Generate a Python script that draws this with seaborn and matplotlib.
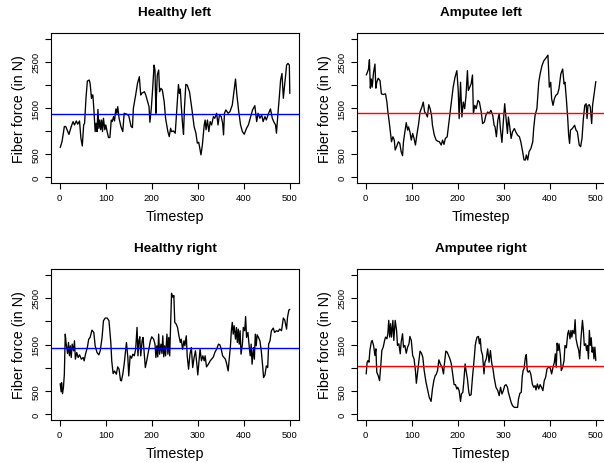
import matplotlib
matplotlib.use("Agg")
import matplotlib.pyplot as plt
import seaborn as sns
import pandas as pd

# ---------------- data ----------------
hl_t = [1,5,10,13,20,25,29,32,36,39,43,46,49,52,54,57,60,64,66,69,70,72,74,77,79,81,83,85,87,89,91,93,95,98,100,103,106,109,112,114,117,119,122,124,126,129,133,137,140,146,150,155,158,160,165,169,173,176,178,184,187,191,194,196,199,202,205,207,209,210,212,215,217,220,223,227,230,235,238,241,243,247,251,254,258,260,262,264,267,269,271,274,277,282,287,292,296,299,302,305,307,310,314,316,318,321,324,327,330,334,337,341,344,347,351,354,356,358,361,366,370,375,379,382,385,389,393,397,401,406,410,415,419,424,428,431,435,439,442,446,449,454,458,462,465,469,471,474,477,480,483,486,488,491,493,496,499,500]
hl_v = [646,775,1100,1100,930,1100,1206,1134,1220,1150,1220,847,680,1134,1170,1710,2082,2104,2032,1710,1780,1780,1493,990,1170,990,1470,1060,1240,1030,1240,990,1278,1030,1134,990,862,862,1240,1206,1314,1220,1480,1386,1530,1278,1100,990,1386,1364,1335,1100,1077,1493,1780,2032,2175,1780,1816,1852,1780,1637,1530,1192,1493,1924,2427,2320,1386,1710,2211,2320,1852,1924,1888,1637,1278,990,883,1063,990,1005,955,1422,2010,1816,1910,1565,1134,933,1493,2010,1996,1852,1493,1100,955,740,761,596,488,704,1134,1240,1030,1240,990,1206,1134,1314,1278,1386,1134,1350,1314,1170,919,1386,1458,1386,1422,1565,1888,2125,1780,1422,1134,990,933,1063,1134,1314,1458,1551,1206,1386,1278,1350,1206,1314,1242,1386,1480,1278,1206,1134,955,1350,1710,2104,2247,1710,1924,2211,2427,2463,2427,1816]

al_t = [1,3,6,8,10,12,14,17,20,22,24,27,31,34,38,43,46,48,51,54,56,59,62,64,67,71,74,77,80,82,85,88,91,93,96,99,102,105,108,111,115,118,122,125,128,131,134,137,140,143,145,149,153,156,160,164,167,170,173,177,180,183,187,190,194,198,201,203,206,209,212,215,218,221,223,226,229,232,234,237,240,244,247,251,254,258,261,265,268,272,276,279,281,284,287,290,293,296,299,302,305,308,310,313,316,319,323,326,330,334,337,341,344,347,349,352,355,359,363,365,368,370,372,374,376,379,383,387,391,396,399,402,404,407,410,413,417,420,424,428,431,433,436,439,441,443,445,449,454,457,460,464,467,470,473,476,479,481,483,486,488,491,493,496,500]
al_v = [2213,2256,2342,2542,1928,2128,1950,2270,2449,1928,2056,2142,2092,1806,1792,1806,1628,1428,1200,950,771,878,807,593,664,771,735,557,471,771,985,1185,1021,1092,985,807,950,843,700,914,1164,1414,1521,1628,1414,1378,1307,1571,1485,1342,1128,914,807,785,771,700,807,714,843,878,1128,1378,1700,1950,2163,2306,1878,1271,2056,1307,1628,1485,1771,2306,1878,1950,2021,2213,1378,1557,1485,1664,1628,1414,1164,1200,1342,1414,1378,1450,1342,1128,1092,878,1235,1378,1021,757,1200,1592,1271,950,1307,1092,843,985,1057,985,914,878,771,557,378,378,486,378,557,628,771,1057,1342,1414,1485,1771,2056,2235,2413,2520,2570,2642,1950,2056,1700,1557,1700,1771,1806,1914,2235,2342,2021,2056,1700,1271,914,735,1021,1057,1128,1021,985,700,664,843,1271,1557,1592,1271,1557,1571,1521,1164,1557,1771,2071]

hr_t = [1,3,4,6,8,10,12,14,17,19,21,23,25,27,30,32,34,37,40,43,47,51,53,56,60,63,66,70,74,77,81,85,88,92,95,99,103,107,111,113,116,119,123,126,129,132,134,137,140,143,145,148,150,153,156,159,162,165,168,170,172,174,176,179,181,184,186,189,193,197,200,204,207,209,211,213,215,217,220,222,224,226,228,230,233,235,237,239,241,243,246,248,250,253,256,259,262,264,267,270,272,275,277,280,283,286,289,292,295,298,300,303,305,308,311,314,316,319,323,327,330,334,337,341,345,348,351,354,357,360,363,366,368,371,373,375,377,379,382,384,386,388,390,392,394,397,399,402,404,406,409,412,414,416,418,421,423,425,427,429,432,435,438,441,443,446,449,452,454,457,460,464,467,471,475,478,482,486,489,493,495,498,500]
hr_v = [660,488,682,445,574,862,1723,1508,1307,1544,1257,1472,1221,1508,1364,1580,1185,1328,1221,1278,1185,1221,1149,1292,1436,1615,1651,1809,1759,1472,1328,1278,1364,1651,2010,2068,2068,2010,1544,1149,876,933,862,1020,969,732,718,862,1077,1364,1544,1221,826,1257,1206,1292,1257,1400,1867,1257,1580,1666,1257,1580,1651,1257,1005,1149,1364,1580,1666,1615,1508,1221,1472,1235,1723,1292,1508,1307,1687,1235,1472,1257,1723,1292,1651,1257,1939,2600,2513,2549,1975,1939,1867,1687,1544,1615,1400,1580,1472,1687,1257,969,1292,1436,1005,1221,1364,1077,847,1185,1400,1149,1257,1149,1257,1020,1077,1149,1185,1235,1328,1400,1508,1493,1400,1257,1221,1185,1077,933,1149,1472,1795,1975,1723,1903,1615,1867,1544,1831,1508,1795,1292,1508,1867,1795,2097,1651,1759,1436,1257,1508,1077,1436,1185,1723,1472,1709,1651,1580,1364,1041,790,847,1041,1005,1508,1580,1795,1852,1759,1795,1780,1831,1795,2068,2025,1831,2082,2240,2255]

ar_t = [1,3,5,7,9,12,14,17,20,22,24,27,30,33,35,38,41,43,46,48,50,52,54,56,59,61,63,64,67,69,72,75,77,80,82,85,88,91,94,96,99,102,105,108,110,113,116,118,121,124,127,131,135,138,142,145,148,151,153,156,159,162,166,169,171,174,177,180,183,186,189,192,195,198,200,203,206,208,211,213,216,218,221,224,226,229,232,234,236,238,240,242,245,247,249,251,254,257,259,262,265,268,271,274,276,279,283,287,290,293,296,299,302,305,308,310,313,316,319,323,326,330,332,335,338,340,342,344,347,349,351,353,356,359,362,365,368,370,373,376,379,382,385,388,391,394,397,401,404,407,410,412,414,416,418,420,423,425,428,431,433,436,439,441,444,446,448,450,453,455,457,460,463,465,468,471,473,475,478,480,482,484,486,488,490,492,494,496,498,500]
ar_v = [869,1120,1156,1120,1371,1551,1587,1479,1264,1407,905,833,725,1084,1371,1443,1587,1659,1623,1730,2018,1659,1946,1659,2018,1587,1874,2018,1802,1479,1515,1300,1551,1730,1443,1479,1314,1443,1515,1673,1587,1264,1192,941,668,941,1192,1357,1314,1228,941,689,510,366,280,546,725,833,854,941,1170,1084,1012,869,1084,1357,1336,1264,1192,1084,869,639,639,546,582,510,280,438,474,689,1084,941,761,474,402,424,797,1012,1228,1479,1587,1659,1673,1515,1623,1371,1264,869,1120,1192,1407,1120,1371,1084,1012,797,582,510,402,582,438,510,617,639,582,474,366,258,187,151,151,151,330,452,474,797,941,977,1228,1285,941,905,941,854,653,582,617,524,653,546,639,582,510,725,797,977,1012,998,869,1012,1120,1300,1012,1529,1371,1515,1264,941,1012,1156,1479,1429,1730,1802,1623,1802,1659,1802,1730,2032,1623,1479,1371,1192,1659,2018,1802,1479,1515,1371,1479,1192,1802,1479,1645,1336,1443,1192,1443,1156]

titles = ["Healthy left", "Amputee left", "Healthy right", "Amputee right"]
ref_levels = [1370, 1390, 1432, 1045]
ref_colors = ["#0000ff", "#ff0000", "#0000ff", "#ff0000"]
y_ticks = [0, 500, 1000, 1500, 2000, 2500, 3000]
y_tick_labels = ["0", "500", "", "1500", "", "2500", ""]
x_ticks = [0, 100, 200, 300, 400, 500]

series = [(hl_t, hl_v), (al_t, al_v), (hr_t, hr_v), (ar_t, ar_v)]

# ---------------- figure ----------------
sns.set_style("white")
plt.rcParams["font.family"] = ["Liberation Sans", "DejaVu Sans"]
plt.rcParams["text.color"] = "black"
plt.rcParams["axes.labelcolor"] = "black"
plt.rcParams["xtick.color"] = "black"
plt.rcParams["ytick.color"] = "black"

W, H = 604, 464
fig = plt.figure(figsize=(W / 100, H / 100), dpi=100)
boxes = [(51, 34, 248, 150), (357, 34, 248, 150),
         (51, 270, 248, 151), (357, 270, 248, 151)]

for (t, v), title, lvl, col, (bx, by, bw, bh) in zip(series, titles, ref_levels, ref_colors, boxes):
    ax = fig.add_axes([bx / W, (H - by - bh) / H, bw / W, bh / H])
    df = pd.DataFrame({"Timestep": t, "force": v})
    sns.lineplot(data=df, x="Timestep", y="force", ax=ax, color="black",
                 linewidth=0.95, estimator=None, sort=False)
    ax.axhline(lvl, color=col, linewidth=1.0)
    ax.set_xlim(-19, 520)
    ax.set_ylim(-120, 3120)
    ax.set_xticks(x_ticks)
    ax.set_xticklabels([str(x) for x in x_ticks])
    ax.set_yticks(y_ticks)
    ax.set_yticklabels(y_tick_labels, rotation=90, va="center")
    for s in ax.spines.values():
        s.set_visible(True)
        s.set_color("black")
        s.set_linewidth(0.8)
    ax.tick_params(axis="both", direction="out", length=4.5, width=0.8,
                   color="black", labelcolor="black", labelsize=6.8, pad=3,
                   left=True, bottom=True)
    ax.set_xlabel("Timestep", fontsize=10.3, labelpad=5, color="black")
    ax.set_ylabel("Fiber force (in N)", fontsize=10.3, labelpad=4, color="black")
    ax.set_title(title, fontsize=9.7, fontweight="bold", pad=13, color="black")

fig.savefig("out.png", dpi=100)
